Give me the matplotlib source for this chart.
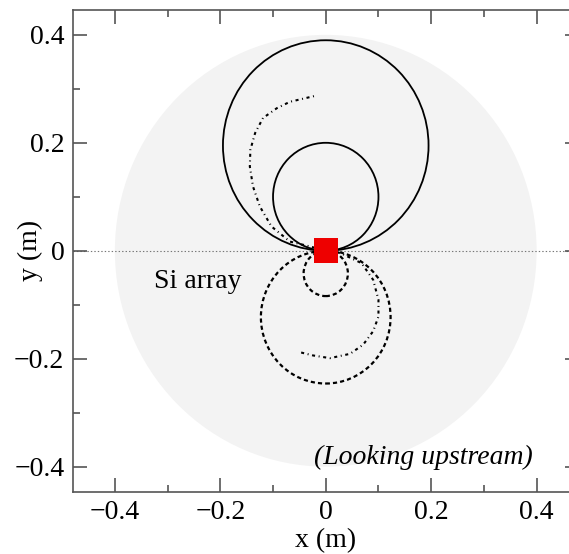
import matplotlib
matplotlib.use('agg')
import matplotlib.pyplot as plt  # noqa
from matplotlib.patches import Circle, Rectangle

plt.rcParams['font.family'] = ['Liberation Serif', 'DejaVu Serif']
plt.rcParams['lines.scale_dashes'] = False

# Si array acceptance (radius, m)
array_radius = 0.4

# closed orbits: centre y and radius (m), centres on x = 0
solid_cy = [0.195, 0.1]
solid_r = [0.195, 0.1]
dashed_cy = [-0.042, -0.123]
dashed_r = [0.042, 0.123]

# spiralling tracks
up_x = [0.0, -0.030, -0.068, -0.103, -0.125, -0.138, -0.144, -0.143,
        -0.134, -0.119, -0.093, -0.068, -0.020]
up_y = [0.0, 0.008, 0.017, 0.045, 0.082, 0.119, 0.156, 0.187,
        0.218, 0.246, 0.264, 0.276, 0.287]
down_x = [0.0, 0.027, 0.068, 0.090, 0.100, 0.100, 0.090, 0.071,
          0.046, 0.008, -0.024, -0.049]
down_y = [0.0, -0.004, -0.023, -0.054, -0.091, -0.122, -0.149, -0.174,
          -0.191, -0.199, -0.194, -0.188]

# target size (m)
target = 0.046

ticks = [-0.4, -0.2, 0, 0.2, 0.4]
tick_labels = ['\u22120.4', '\u22120.2', '0', '0.2', '0.4']
minor_ticks = [-0.3, -0.1, 0.1, 0.3]

fig = plt.figure(figsize=(5.69, 5.54), dpi=100)
ax = fig.add_axes([72.7 / 569, 62 / 554, (578.8 - 72.7) / 569, (544.5 - 62) / 554])
ax.set_xlim(-0.48, 0.48)
ax.set_ylim(-0.447, 0.447)

ax.add_patch(Circle((0, 0), array_radius, facecolor='#f3f3f3',
                    edgecolor='none', zorder=0))
ax.axhline(0, color='#777777', lw=0.8, ls=(0, (1, 1.5)), zorder=1)

for cy, r in zip(solid_cy, solid_r):
    ax.add_patch(Circle((0, cy), r, fill=False, edgecolor='black',
                        lw=1.3, zorder=2))
for cy, r in zip(dashed_cy, dashed_r):
    ax.add_patch(Circle((0, cy), r, fill=False, edgecolor='black',
                        lw=1.6, ls=(0, (3, 2.2)), zorder=2))

spiral_ls = (0, (2.2, 2.6, 0.7, 2.6))
ax.plot(up_x, up_y, color='black', lw=1.5, ls=spiral_ls, zorder=2)
ax.plot(down_x, down_y, color='black', lw=1.5, ls=spiral_ls, zorder=2)

ax.add_patch(Rectangle((-target / 2, -target / 2), target, target,
                       facecolor='#ee0000', edgecolor='none', zorder=3))

ax.text(-0.325, -0.057, 'Si array', fontsize=20, va='center', ha='left')
ax.text(0.186, -0.383, '(Looking upstream)', fontsize=20, style='italic',
        va='center', ha='center')

ax.set_xticks(ticks, tick_labels)
ax.set_yticks(ticks, tick_labels)
ax.set_xticks(minor_ticks, minor=True)
ax.set_yticks(minor_ticks, minor=True)
ax.tick_params(which='both', direction='in', top=True, right=True,
               color='#555555', width=1.2, labelsize=20)
ax.tick_params(which='major', length=10)
ax.tick_params(which='minor', length=5)
ax.tick_params(axis='x', pad=6)
ax.tick_params(axis='y', pad=6)
for s in ax.spines.values():
    s.set_color('#555555')
    s.set_linewidth(1.2)

ax.set_xlabel('x (m)', fontsize=20)
ax.set_ylabel('y (m)', fontsize=20)
ax.xaxis.set_label_coords(0.5, -0.075)
ax.yaxis.set_label_coords(-0.058, 0.5)

plt.savefig('out.png', dpi=100)
